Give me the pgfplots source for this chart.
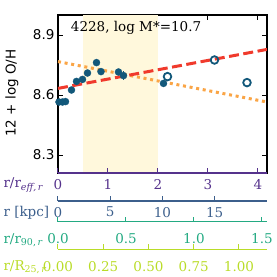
\documentclass[border=0pt]{standalone}
\usepackage{fontspec}
\setmainfont{DejaVu Serif}
\setsansfont{DejaVu Sans}
\usepackage{pgfplots}
\pgfplotsset{compat=1.18}
\definecolor{ptc}{RGB}{18,88,122}
\definecolor{shade}{RGB}{255,248,220}
\definecolor{redl}{RGB}{240,58,44}
\definecolor{orl}{RGB}{250,165,70}
\definecolor{cpur}{RGB}{85,50,140}
\definecolor{cblu}{RGB}{60,95,140}
\definecolor{cgrn}{RGB}{35,170,130}
\definecolor{cyel}{RGB}{185,220,40}
\newcommand{\fs}{\fontsize{13.5}{16}\selectfont}
\pgfplotsset{
  extraax/.style n args={3}{at={(58pt,#1)}, anchor=south west, scale only axis,
    width=209pt, height=10pt, ymin=0, ymax=1,
    axis x line*=bottom, axis y line=none,
    tick align=inside, major tick length=5pt,
    x axis line style={#2, line width=1.5pt, -},
    every tick/.style={#2, line width=1pt},
    xticklabel style={text=#2, font=\fs, yshift=#3}},
}
\begin{document}
\begin{tikzpicture}[font=\fs]
\path[use as bounding box] (0,0) rectangle (277pt,277pt);
\begin{axis}[at={(58pt,104pt)}, anchor=south west, scale only axis,
  width=209pt, height=158pt,
  xmin=0, xmax=4.18, ymin=8.21, ymax=9.0,
  xtick={0,1,2,3,4}, xticklabels={},
  ytick={8.3,8.6,8.9}, yticklabels={8.3,8.6,8.9},
  tick align=inside, major tick length=5pt,
  every tick/.style={black, line width=1pt},
  axis line style={line width=1.5pt},
  yticklabel style={font=\sffamily\fs},
  ylabel={12 + log O/H},
  ylabel style={font=\sffamily\fs, at={(axis description cs:-0.22,0.506)}, anchor=center},
  clip=true]
\addplot[fill=shade, draw=none] coordinates {(0.5,8.21) (2.0,8.21) (2.0,9.0) (0.5,9.0)} -- cycle;
\addplot[orl, line width=3pt, dash pattern=on 3pt off 3.7pt] coordinates {(0,8.767) (4.18,8.565)};
\addplot[redl, line width=3pt, dash pattern=on 10pt off 4.5pt] coordinates {(0,8.633) (4.18,8.828)};
\addplot[ptc, only marks, mark=*, mark size=3.5pt, mark options={fill=ptc, draw=ptc},
  error bars/.cd, y dir=both, y explicit, error bar style={ptc, line width=1.2pt}, error mark=none]
  coordinates {
  (0.02,8.565) +- (0,0)
  (0.09,8.565) +- (0,0)
  (0.15,8.567) +- (0,0)
  (0.27,8.625) +- (0,0)
  (0.37,8.668) +- (0,0)
  (0.49,8.678) +- (0,0)
  (0.59,8.710) +- (0,0)
  (0.77,8.762) +- (0,0)
  (0.86,8.717) +- (0,0.015)
  (1.21,8.715) +- (0,0)
  (1.31,8.697) +- (0,0.022)
  (2.11,8.658) +- (0,0)
  };
\addplot[ptc, only marks, mark=o, mark size=3.8pt, mark options={line width=1.8pt, fill=white}]
  coordinates {(2.19,8.692) (3.13,8.775) (3.78,8.662)};
\node[anchor=west] at (axis description cs:0.045,0.918) {4228, log M*=10.7};
\end{axis}
\begin{axis}[extraax={104pt}{cpur}{-2.5pt}, xmin=0, xmax=4.18, xtick={0,1,2,3,4}, xticklabels={0,1,2,3,4}]
\addplot[draw=none] coordinates {(0,0)};
\end{axis}
\begin{axis}[extraax={76pt}{cblu}{-2.5pt}, xmin=0, xmax=20, xtick={0,5,10,15}, xticklabels={0,5,10,15}]
\addplot[draw=none] coordinates {(0,0)};
\end{axis}
\begin{axis}[extraax={55.3pt}{cgrn}{-8.5pt}, xmin=0, xmax=1.537, xtick={0,0.5,1.0,1.5}, xticklabels={0.0,0.5,1.0,1.5}]
\addplot[draw=none] coordinates {(0,0)};
\end{axis}
\begin{axis}[extraax={27.7pt}{cyel}{-8.5pt}, xmin=0, xmax=1.155, xtick={0,0.25,0.5,0.75,1.0}, xticklabels={0.00,0.25,0.50,0.75,1.00}]
\addplot[draw=none] coordinates {(0,0)};
\end{axis}
\node[anchor=west, text=cpur] at (0pt,92pt) {r/r\textsubscript{\itshape eff,\,r}};
\node[anchor=west, text=cblu] at (0pt,64.3pt) {r [kpc]};
\node[anchor=west, text=cgrn] at (0pt,37pt) {r/r\textsubscript{90,\,\itshape r}};
\node[anchor=west, text=cyel] at (0pt,9.7pt) {r/R\textsubscript{25,\,\itshape r}};
\end{tikzpicture}
\end{document}
